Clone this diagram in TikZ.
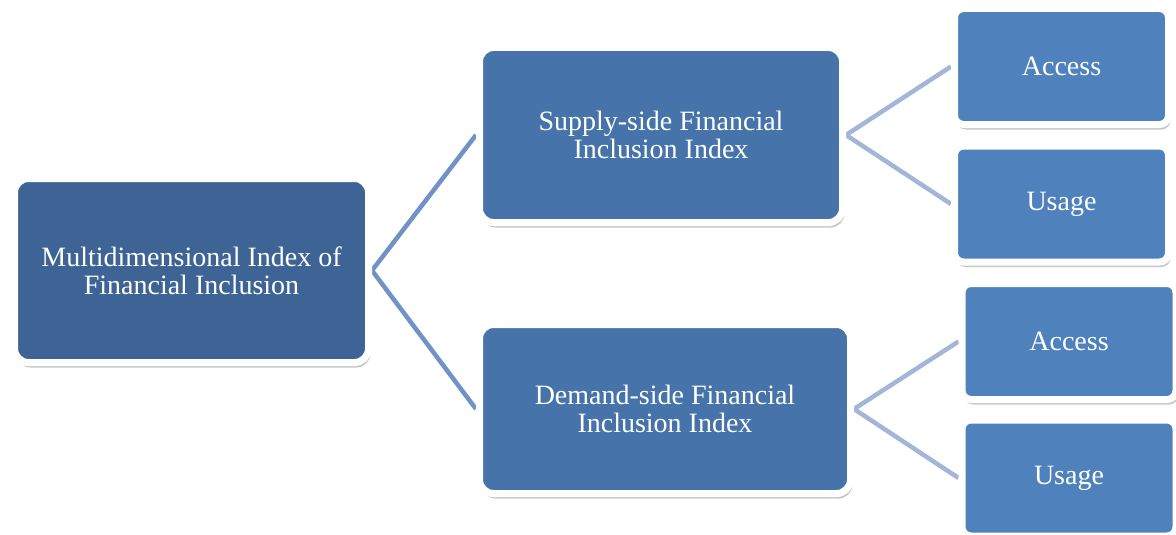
\documentclass[tikz,border=0pt]{standalone}
\usepackage{fontspec}
\setmainfont{Liberation Serif}
\usetikzlibrary{shadows,backgrounds}
\definecolor{rootblue}{RGB}{61,100,148}
\definecolor{midblue}{RGB}{70,116,170}
\definecolor{leafblue}{RGB}{79,129,189}
\definecolor{trunkline}{RGB}{113,146,199}
\definecolor{twigline}{RGB}{163,182,215}
\begin{document}
\begin{tikzpicture}[x=1pt,y=-1pt,
    box/.style={rectangle,draw=white,line width=7pt,text=white,align=center,
      font=\fontsize{28}{28}\selectfont,
      drop shadow={shadow xshift=2pt,shadow yshift=-5pt,opacity=0.22,fill=black}},
    rootbox/.style={box,rounded corners=14pt,fill=rootblue,minimum width=354pt,minimum height=184pt},
    midbox/.style={box,rounded corners=14pt,fill=midblue},
    leafbox/.style={box,rounded corners=9pt,fill=leafblue,minimum width=214pt,minimum height=116pt},
    trunk/.style={trunkline,line width=4.5pt},
    twig/.style={twigline,line width=4.5pt}]
  \useasboundingbox (0,0) rectangle (1176,535);
  \node[rootbox] (mifi) at (191.5,270.5) {Multidimensional Index of\\Financial Inclusion};
  \node[midbox,minimum width=363pt,minimum height=175pt] (supply) at (661,135) {Supply-side Financial\\Inclusion Index};
  \node[midbox,minimum width=371pt,minimum height=169pt] (demand) at (665,409) {Demand-side Financial\\Inclusion Index};
  \node[leafbox] (saccess) at (1061.5,66.5) {Access};
  \node[leafbox] (susage) at (1061.5,204) {Usage};
  \node[leafbox] (daccess) at (1069,341.5) {Access};
  \node[leafbox] (dusage) at (1069,478) {Usage};
  \begin{scope}[on background layer]
    \draw[trunk] (mifi.east) -- (supply.west);
    \draw[trunk] (mifi.east) -- (demand.west);
    \draw[twig] (supply.east) -- (saccess.west);
    \draw[twig] (supply.east) -- (susage.west);
    \draw[twig] (demand.east) -- (daccess.west);
    \draw[twig] (demand.east) -- (dusage.west);
  \end{scope}
\end{tikzpicture}
\end{document}
